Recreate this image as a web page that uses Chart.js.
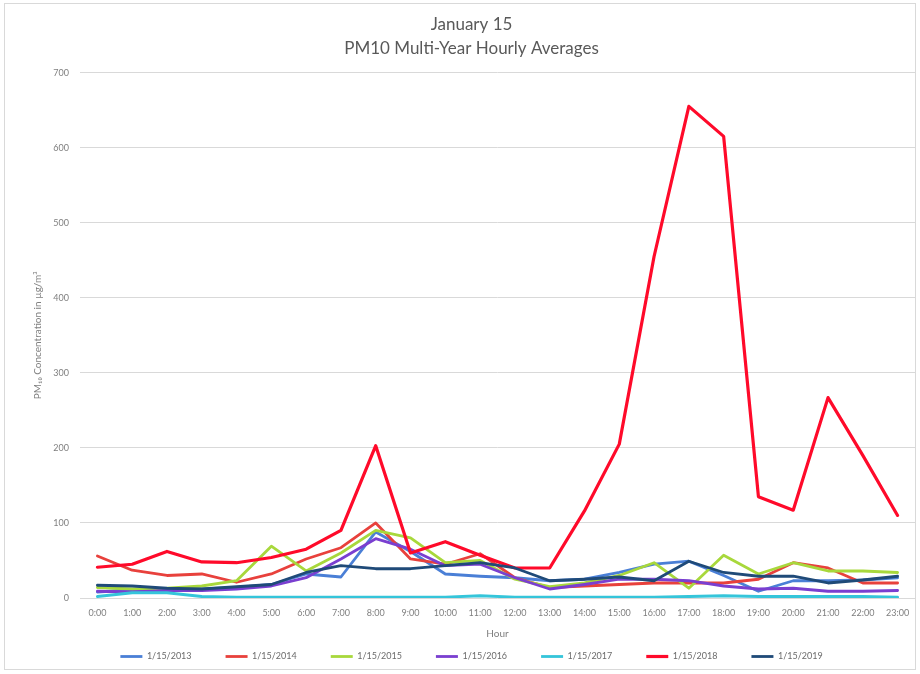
<!DOCTYPE html>
<html>
<head>
<meta charset="utf-8">
<script src="https://cdn.jsdelivr.net/npm/chart.js@4/dist/chart.umd.min.js"></script>
<style>
  html, body { margin: 0; padding: 0; background: #ffffff; }
  #wrap { width: 920px; height: 674px; position: relative; }
</style>
</head>
<body>
<div id="wrap"><canvas id="c" width="920" height="674"></canvas></div>
<script>
const hours = ["0:00","1:00","2:00","3:00","4:00","5:00","6:00","7:00","8:00","9:00","10:00","11:00",
               "12:00","13:00","14:00","15:00","16:00","17:00","18:00","19:00","20:00","21:00","22:00","23:00"];
const seriesNames = ["1/15/2013","1/15/2014","1/15/2015","1/15/2016","1/15/2017","1/15/2018","1/15/2019"];
const y2013 = [8, 11, 12, 12, 14, 18, 32, 28, 88, 62, 32, 29, 27, 23, 25, 34, 45, 49, 30, 9, 23, 23, 24, 27];
const y2014 = [56, 37, 30, 32, 21, 32, 52, 67, 100, 52, 45, 59, 27, 14, 16, 18, 20, 20, 20, 25, 47, 40, 20, 20];
const y2015 = [14, 12, 13, 16, 23, 69, 36, 60, 90, 80, 47, 50, 25, 15, 20, 30, 47, 13, 57, 32, 47, 36, 36, 34];
const y2016 = [9, 8, 10, 10, 12, 16, 27, 52, 79, 65, 43, 45, 27, 12, 18, 25, 25, 23, 16, 12, 13, 9, 9, 10];
const y2017 = [2, 7, 7, 2, 1, 1, 1, 1, 1, 1, 1, 3, 1, 1, 1, 1, 1, 2, 3, 2, 2, 2, 2, 1];
const y2018 = [41, 45, 62, 48, 47, 54, 65, 90, 203, 60, 75, 57, 40, 40, 116, 205, 455, 655, 615, 135, 117, 267, 190, 110];
const y2019 = [17, 16, 13, 12, 15, 18, 34, 43, 39, 39, 43, 47, 40, 23, 25, 28, 23, 49, 34, 29, 29, 20, 24, 29];
const yTicks = [0, 100, 200, 300, 400, 500, 600, 700];

const seriesValues = [y2013, y2014, y2015, y2016, y2017, y2018, y2019];
const colors = ["#4a7fd6", "#e8413c", "#a8d83c", "#7a3fd0", "#35c5da", "#ff0a2a", "#1f4a78"];
const widths = [2.8, 2.8, 2.8, 2.8, 2.8, 3.2, 2.8];

const FONT = "Lato, 'Open Sans', 'Liberation Sans', sans-serif";

const frame = {
  id: 'frame',
  beforeDraw(chart) {
    const ctx = chart.ctx;
    ctx.save();
    ctx.fillStyle = '#ffffff';
    ctx.fillRect(0, 0, chart.width, chart.height);
    ctx.strokeStyle = '#d9d9d9';
    ctx.lineWidth = 1;
    ctx.strokeRect(4.5, 3.5, 911, 666);
    ctx.restore();
  }
};

new Chart(document.getElementById('c'), {
  type: 'line',
  data: {
    labels: hours,
    datasets: seriesNames.map((name, i) => ({
      label: name,
      data: seriesValues[i],
      borderColor: colors[i],
      backgroundColor: colors[i],
      borderWidth: widths[i],
      pointRadius: 0,
      pointHoverRadius: 0,
      tension: 0,
      fill: false,
      borderJoinStyle: 'round',
      borderCapStyle: 'round',
      order: seriesNames.length - i
    }))
  },
  options: {
    responsive: false,
    animation: false,
    devicePixelRatio: 1,
    layout: { padding: { left: 28, right: 5, top: 0, bottom: 3 } },
    plugins: {
      title: {
        display: true,
        text: ["January 15", "PM10 Multi-Year Hourly Averages"],
        color: '#595959',
        font: { family: FONT, size: 17, weight: 'normal', lineHeight: 1.4 },
        padding: { top: 13, bottom: 12 }
      },
      legend: {
        position: 'bottom',
        labels: {
          usePointStyle: true,
          pointStyle: 'line',
          pointStyleWidth: 22,
          padding: 34,
          color: '#6b6b6b',
          font: { family: FONT, size: 9 },
          sort: (a, b) => a.datasetIndex - b.datasetIndex
        }
      },
      tooltip: { enabled: false }
    },
    scales: {
      x: {
        offset: true,
        grid: { display: false, drawTicks: false },
        border: { display: false },
        ticks: {
          autoSkip: false, maxRotation: 0, minRotation: 0,
          padding: 10, color: '#7f7f7f',
          font: { family: FONT, size: 9 }
        },
        title: {
          display: true, text: 'Hour', color: '#7f7f7f',
          font: { family: FONT, size: 10 },
          padding: { top: 0, bottom: -22 }
        },
        afterFit(scale) { scale.height = 20; }
      },
      y: {
        min: 0, max: 700,
        afterBuildTicks(scale) { scale.ticks = yTicks.map(v => ({ value: v })); },
        grid: { color: '#d9d9d9', lineWidth: 1, drawTicks: false },
        border: { display: false },
        ticks: {
          padding: 11, color: '#7f7f7f',
          font: { family: FONT, size: 9 }
        },
        title: {
          display: true, text: 'PM₁₀ Concentration in µg/m³', color: '#7f7f7f',
          font: { family: FONT, size: 10 },
          padding: { top: 4, bottom: 0 }
        },
        afterFit(scale) { scale.width = 52; }
      }
    }
  },
  plugins: [frame]
});
</script>
</body>
</html>
